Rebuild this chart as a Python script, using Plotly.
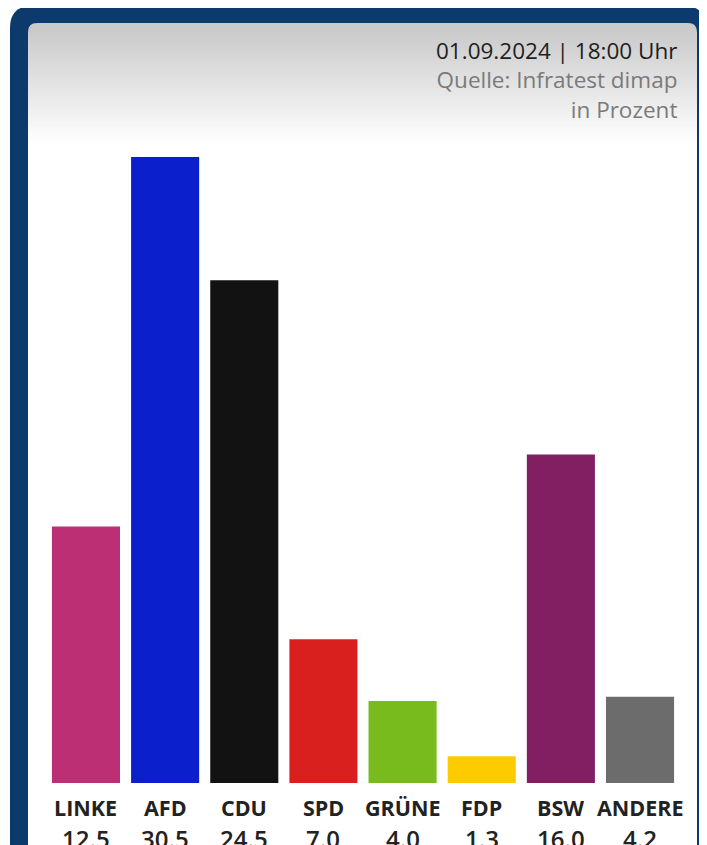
import plotly.graph_objects as go

# ---- data ----
parties = ["LINKE", "AFD", "CDU", "SPD", "GRÜNE", "FDP", "BSW", "ANDERE"]
values = [12.5, 30.5, 24.5, 7.0, 4.0, 1.3, 16.0, 4.2]
value_labels = ["12.5", "30.5", "24.5", "7.0", "4.0", "1.3", "16.0", "4.2"]
bar_colors = ["#bd2f74", "#0b1fcc", "#121212", "#da1f1f", "#77bb1c", "#fdcb00", "#811f62", "#6c6c6c"]
header_lines = ["01.09.2024 | 18:00 Uhr", "Quelle: Infratest dimap", "in Prozent"]

W, H = 707, 845
OFF = 8  # page body margin offset


def px(x):
    return (x - OFF) / W


def py(y):
    return 1 - (y - OFF) / H


def rrect(x0, y0, x1, y1, r):
    pts = [
        ("M", [(x0 + r, y0)]),
        ("L", [(x1 - r, y0)]),
        ("Q", [(x1, y0), (x1, y0 + r)]),
        ("L", [(x1, y1 - r)]),
        ("Q", [(x1, y1), (x1 - r, y1)]),
        ("L", [(x0 + r, y1)]),
        ("Q", [(x0, y1), (x0, y1 - r)]),
        ("L", [(x0, y0 + r)]),
        ("Q", [(x0, y0), (x0 + r, y0)]),
    ]
    s = ""
    for cmd, ps in pts:
        s += cmd + " " + " ".join(f"{px(a):.5f},{py(b):.5f}" for a, b in ps) + " "
    return s + "Z"


shapes = []
shapes.append(dict(type="path", xref="paper", yref="paper", path=rrect(10, 6, 706, 960, 22),
                   fillcolor="#0c3a6c", line=dict(width=0), layer="below"))
shapes.append(dict(type="path", xref="paper", yref="paper", path=rrect(28, 23, 697, 950, 9),
                   fillcolor="#cacaca", line=dict(width=0), layer="below"))
g0, g1, n = 32, 145, 40
c0 = (202, 202, 202)
for i in range(n):
    t = (i + 1) / n
    c = tuple(int(round(c0[k] + (255 - c0[k]) * t)) for k in range(3))
    ya = g0 + (g1 - g0) * i / n
    yb = g0 + (g1 - g0) * (i + 1) / n + 0.6
    shapes.append(dict(type="rect", xref="paper", yref="paper",
                       x0=px(28), x1=px(697), y0=py(yb), y1=py(ya),
                       fillcolor=f"rgb{c}", line=dict(width=0), layer="below"))
shapes.append(dict(type="rect", xref="paper", yref="paper",
                   x0=px(28), x1=px(697), y0=py(950), y1=py(g1),
                   fillcolor="#ffffff", line=dict(width=0), layer="below"))

fig = go.Figure(go.Bar(x=parties, y=values, marker=dict(color=bar_colors, line=dict(width=0)),
                       hoverinfo="skip"))

header_cols = ["#1e1e1e", "#7a7a7a", "#7a7a7a"]
header_text = "<br>".join(f"<span style='color:{c}'>{t}</span>" for t, c in zip(header_lines, header_cols))

annotations = [dict(text=header_text, xref="paper", yref="paper", x=px(679), y=py(80),
                    xanchor="right", yanchor="middle", align="right", showarrow=False,
                    font=dict(family="Open Sans", size=22.5, color="#7a7a7a"))]
for p, v in zip(parties, value_labels):
    annotations.append(dict(text=p, xref="x", yref="paper", x=p, y=py(807),
                            xanchor="center", yanchor="middle", showarrow=False,
                            font=dict(family="Open Sans", size=21.5, color="#222222", weight="bold")))
    annotations.append(dict(text=v, xref="x", yref="paper", x=p, y=py(838),
                            xanchor="center", yanchor="middle", showarrow=False,
                            font=dict(family="Open Sans", size=24, color="#222222", weight=600)))

fig.update_layout(
    width=W, height=H,
    margin=dict(l=0, r=0, t=0, b=0),
    paper_bgcolor="#ffffff",
    plot_bgcolor="rgba(0,0,0,0)",
    showlegend=False,
    bargap=0.14,
    shapes=shapes,
    annotations=annotations,
    xaxis=dict(domain=[px(46.4), px(679.6)], range=[-0.5, 7.5], showticklabels=False,
               showgrid=False, zeroline=False, showline=False, fixedrange=True),
    yaxis=dict(domain=[py(783), py(157)], range=[0, 30.5], showticklabels=False,
               showgrid=False, zeroline=False, showline=False, fixedrange=True),
)

fig.write_html("out.html", config={"displayModeBar": False})
